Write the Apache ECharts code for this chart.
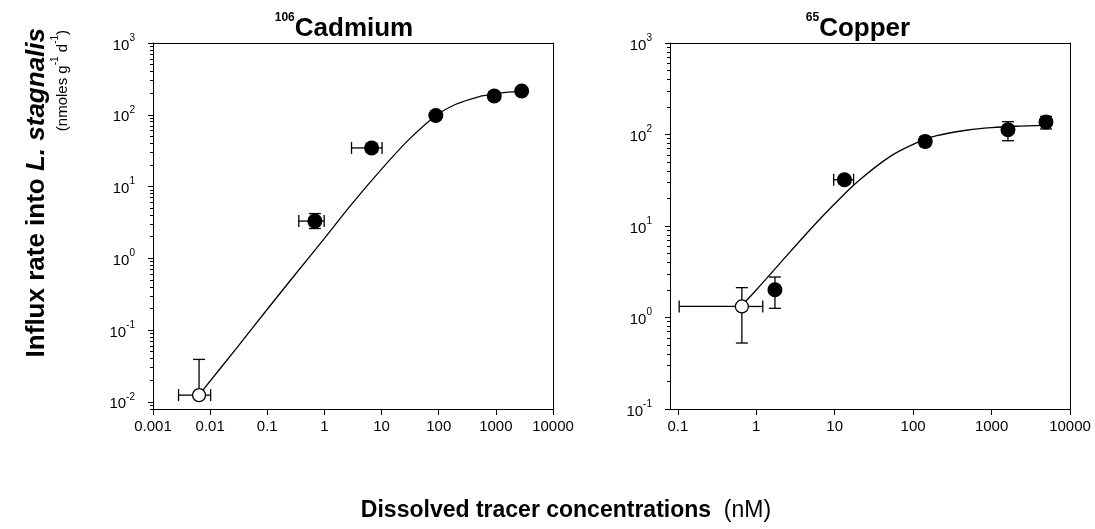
<!DOCTYPE html>
<html>
<head>
<meta charset="utf-8">
<script src="https://cdn.jsdelivr.net/npm/echarts/dist/echarts.min.js"></script>
<style>
  html, body { margin: 0; padding: 0; background: #fff; }
  #chart { width: 1095px; height: 529px; }
</style>
</head>
<body>
<div id="chart"></div>
<script>
// 106Cd uptake (nM, nmoles g-1 d-1)
const cdConc = [0.0064, 0.68, 6.7, 89, 938, 2830];
const cdInflux = [0.0124, 3.3, 34.5, 97.5, 183, 214];
const cdHollow = [true, false, false, false, false, false];
const cdConcErr = [[0.0028, 0.0102], [0.356, 0.99], [2.98, 10.2], null, null, null];
const cdInfluxErr = [[0.0124, 0.039], [2.6, 4.2], [30, 40], null, [160, 208], null];
const cdFitConc = [0.0064, 0.03, 0.1, 0.3, 1, 3, 10, 30, 89, 200, 500, 938, 1500, 2830];
const cdFitInflux = [0.0125, 0.058, 0.195, 0.58, 1.9, 5.7, 17.5, 45, 97, 140, 178, 195, 205, 214];

// 65Cu uptake
const cuConc = [0.655, 1.73, 13.3, 142.6, 1618, 4940];
const cuInflux = [1.32, 2.01, 32, 84, 112.8, 137];
const cuHollow = [true, false, false, false, false, false];
const cuConcErr = [[0.104, 1.21], null, [9.7, 17.4], [125, 160], null, null];
const cuInfluxErr = [[0.526, 2.12], [1.26, 2.77], [29, 35], [75, 94], [85.5, 138], [115, 158]];
const cuFitConc = [0.655, 1, 2, 5, 10, 20, 50, 100, 200, 500, 1000, 2000, 4900];
const cuFitInflux = [1.36, 2.0, 3.9, 9.4, 17.5, 31, 57, 78, 97, 112, 119, 123, 126];

// axis ticks
const cdXTicks = [0.001, 0.01, 0.1, 1, 10, 100, 1000, 10000];
const cuXTicks = [0.1, 1, 10, 100, 1000, 10000];
const cdYExp = [-2, -1, 0, 1, 2, 3];
const cuYExp = [-1, 0, 1, 2, 3];

const FONT = 'Liberation Sans, Arial, sans-serif';
const lg = Math.log10;

// log minor ticks 2..9 per decade
function minorTicks(lo, hi) {
  const out = [];
  for (let e = Math.floor(lo); e < hi; e++) {
    for (let k = 2; k <= 9; k++) {
      const v = e + lg(k);
      if (v > lo && v < hi) out.push(v);
    }
  }
  return out;
}

function fmtX(v) {
  const e = Math.round(v);
  return e < 0 ? Math.pow(10, e).toFixed(-e) : String(Math.pow(10, e));
}

const axisLine = { show: true, onZero: false, lineStyle: { color: '#000', width: 1 } };

function xAxes(gi, min, max, ticks) {
  const vals = ticks.map(lg);
  return [{
    type: 'value', gridIndex: gi, min: min, max: max, position: 'bottom',
    axisLine: axisLine,
    axisTick: { show: true, length: 6, customValues: vals, lineStyle: { color: '#000' } },
    axisLabel: { customValues: vals, formatter: fmtX, fontSize: 15, color: '#000', fontFamily: FONT, margin: 10 },
    splitLine: { show: false }
  }, {
    type: 'value', gridIndex: gi, min: min, max: max, position: 'top',
    axisLine: axisLine, axisTick: { show: false }, axisLabel: { show: false }, splitLine: { show: false }
  }];
}

function yAxes(gi, min, max, exps) {
  return [{
    type: 'value', gridIndex: gi, min: min, max: max, position: 'left',
    axisLine: axisLine,
    axisTick: { show: true, length: 5, customValues: exps, lineStyle: { color: '#000' } },
    axisLabel: {
      customValues: exps, margin: 18, color: '#000', fontFamily: FONT,
      formatter: v => '{b|10}{s|' + Math.round(v) + '}',
      rich: {
        b: { fontSize: 15, lineHeight: 20, verticalAlign: 'bottom', fontFamily: FONT, color: '#000' },
        s: { fontSize: 10, lineHeight: 10, verticalAlign: 'top', fontFamily: FONT, color: '#000' }
      }
    },
    splitLine: { show: false }
  }, {
    type: 'value', gridIndex: gi, min: min, max: max, position: 'left',
    axisLine: { show: false, onZero: false },
    axisTick: { show: true, length: 3, customValues: minorTicks(min, max), lineStyle: { color: '#000' } },
    axisLabel: { show: false }, splitLine: { show: false }
  }, {
    type: 'value', gridIndex: gi, min: min, max: max, position: 'right',
    axisLine: axisLine, axisTick: { show: false }, axisLabel: { show: false }, splitLine: { show: false }
  }];
}

function errData(conc, influx, concErr, influxErr) {
  return conc.map((c, i) => {
    const xe = concErr[i] || [c, c];
    const ye = influxErr[i] || [influx[i], influx[i]];
    return [lg(c), lg(influx[i]), lg(xe[0]), lg(xe[1]), lg(ye[0]), lg(ye[1])];
  });
}

function renderErr(params, api) {
  const x = api.value(0), y = api.value(1);
  const cap = 6;
  const kids = [];
  const seg = (x1, y1, x2, y2) => ({
    type: 'line', shape: { x1: x1, y1: y1, x2: x2, y2: y2 },
    style: { stroke: '#000', lineWidth: 1.3 }
  });
  const c = api.coord([x, y]);
  [api.value(2), api.value(3)].forEach(v => {
    if (Math.abs(v - x) < 1e-9) return;
    const p = api.coord([v, y]);
    kids.push(seg(c[0], c[1], p[0], p[1]), seg(p[0], p[1] - cap, p[0], p[1] + cap));
  });
  [api.value(4), api.value(5)].forEach(v => {
    if (Math.abs(v - y) < 1e-9) return;
    const p = api.coord([x, v]);
    kids.push(seg(c[0], c[1], p[0], p[1]), seg(p[0] - cap, p[1], p[0] + cap, p[1]));
  });
  return { type: 'group', children: kids };
}

function seriesFor(xi, yi, conc, influx, hollow, concErr, influxErr, fitConc, fitInflux) {
  const pts = conc.map((c, i) => [lg(c), lg(influx[i])]);
  return [{
    type: 'line', xAxisIndex: xi, yAxisIndex: yi, z: 1,
    data: fitConc.map((c, i) => [lg(c), lg(fitInflux[i])]),
    smooth: 0.3, symbol: 'none', lineStyle: { color: '#000', width: 1.3 }, silent: true
  }, {
    type: 'custom', xAxisIndex: xi, yAxisIndex: yi, z: 2,
    data: errData(conc, influx, concErr, influxErr),
    encode: { x: 0, y: 1 }, renderItem: renderErr, silent: true
  }, {
    type: 'scatter', xAxisIndex: xi, yAxisIndex: yi, z: 3,
    data: pts.filter((p, i) => !hollow[i]), symbolSize: 15,
    itemStyle: { color: '#000', opacity: 1 }
  }, {
    type: 'scatter', xAxisIndex: xi, yAxisIndex: yi, z: 3,
    data: pts.filter((p, i) => hollow[i]), symbolSize: 13,
    itemStyle: { color: '#fff', borderColor: '#000', borderWidth: 1.3, opacity: 1 }
  }];
}

const chart = echarts.init(document.getElementById('chart'));

const option = {
  animation: false,
  backgroundColor: '#fff',
  grid: [
    { left: 153, top: 43, width: 400, height: 366 },
    { left: 670, top: 43, width: 400, height: 366 }
  ],
  xAxis: [].concat(xAxes(0, -3, 4, cdXTicks), xAxes(1, -1.1, 4, cuXTicks)),
  yAxis: [].concat(yAxes(0, -2.1, 3, cdYExp), yAxes(1, -1, 3, cuYExp)),
  series: [].concat(
    seriesFor(0, 0, cdConc, cdInflux, cdHollow, cdConcErr, cdInfluxErr, cdFitConc, cdFitInflux),
    seriesFor(2, 3, cuConc, cuInflux, cuHollow, cuConcErr, cuInfluxErr, cuFitConc, cuFitInflux)
  ),
  graphic: [
    {
      type: 'text', x: 344, y: 27,
      style: {
        text: '{s|106}{m|Cadmium}', align: 'center', verticalAlign: 'middle',
        rich: {
          s: { fontSize: 12, fontWeight: 'bold', fontFamily: FONT, verticalAlign: 'top', lineHeight: 12 },
          m: { fontSize: 26, fontWeight: 'bold', fontFamily: FONT, verticalAlign: 'bottom', lineHeight: 30 }
        }
      }
    },
    {
      type: 'text', x: 858, y: 27,
      style: {
        text: '{s|65}{m|Copper}', align: 'center', verticalAlign: 'middle',
        rich: {
          s: { fontSize: 12, fontWeight: 'bold', fontFamily: FONT, verticalAlign: 'top', lineHeight: 12 },
          m: { fontSize: 26, fontWeight: 'bold', fontFamily: FONT, verticalAlign: 'bottom', lineHeight: 30 }
        }
      }
    },
    {
      type: 'text', x: 37, y: 28, rotation: Math.PI / 2,
      style: {
        text: '{b|Influx rate into }{i|L. stagnalis}', align: 'right', verticalAlign: 'middle',
        rich: {
          b: { fontSize: 26, fontWeight: 'bold', fontFamily: FONT },
          i: { fontSize: 26, fontWeight: 'bold', fontStyle: 'italic', fontFamily: FONT }
        }
      }
    },
    {
      type: 'text', x: 60, y: 30, rotation: Math.PI / 2,
      style: {
        text: '{n|(nmoles g}{s|-1}{n| d}{s|-1}{n|)}', align: 'right', verticalAlign: 'middle',
        rich: {
          n: { fontSize: 15, fontFamily: FONT, lineHeight: 20, verticalAlign: 'bottom' },
          s: { fontSize: 10, fontFamily: FONT, lineHeight: 10, verticalAlign: 'top' }
        }
      }
    },
    {
      type: 'text', x: 566, y: 511,
      style: {
        text: '{b|Dissolved tracer concentrations}{n|  (nM)}', align: 'center', verticalAlign: 'middle',
        rich: {
          b: { fontSize: 23, fontWeight: 'bold', fontFamily: FONT },
          n: { fontSize: 23, fontFamily: FONT }
        }
      }
    }
  ]
};

chart.setOption(option);
</script>
</body>
</html>
